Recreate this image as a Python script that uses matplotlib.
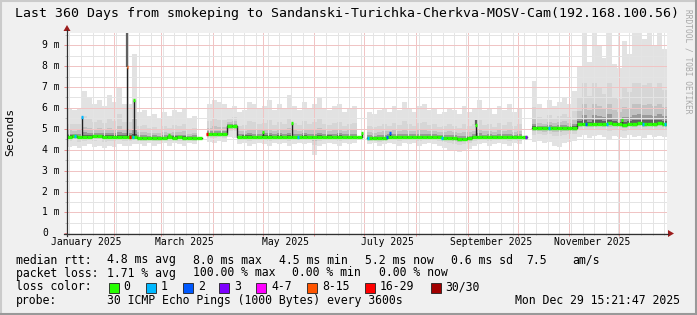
import numpy as np
import matplotlib
matplotlib.use("Agg")
import matplotlib.pyplot as plt
import matplotlib.dates as mdates
from matplotlib.patches import Polygon, Rectangle
from matplotlib.lines import Line2D
import datetime as dt

plt.rcParams['font.family'] = 'DejaVu Sans Mono'

# time range of the graph (rrdtool "last 360 days")
end = dt.datetime(2025, 12, 29, 15, 21, 47)
start = end - dt.timedelta(days=360)
bin_days = 3

nan = np.nan

# median rtt per 3-day bin (ms)
median = [4.63, 4.64, 4.62, 4.63, 4.63, 4.65, 4.64, 4.63,
          4.62, 4.63, 4.62, 4.63, 4.62, 4.60,
          4.56, 4.57, 4.56, 4.57, 4.58, 4.57, 4.60,
          4.58, 4.59, 4.58, 4.57, 4.58, 4.57,
          nan,
          4.74, 4.75, 4.74, 4.75,
          5.13, 5.14,
          4.62, 4.63, 4.62, 4.61, 4.62, 4.63, 4.62, 4.62, 4.63, 4.62, 4.61, 4.62, 4.62,
          4.63, 4.62, 4.61, 4.62, 4.62, 4.63, 4.62, 4.62, 4.61, 4.62, 4.62, 4.63,
          nan,
          4.56, 4.55, 4.55, 4.56,
          4.61, 4.62, 4.61, 4.60, 4.61, 4.62, 4.61, 4.60, 4.61, 4.60, 4.59, 4.58, 4.57,
          4.55, 4.53, 4.52, 4.55,
          4.59, 4.60, 4.59, 4.60, 4.60, 4.59, 4.60, 4.59, 4.60, 4.59, 4.60,
          nan,
          5.02, 5.03, 5.03, 5.04, 5.03, 5.04, 5.05, 5.04, 5.06,
          5.24, 5.25, 5.23, 5.24, 5.25, 5.24, 5.26, 5.25, 5.24,
          5.17,
          5.24, 5.25, 5.26, 5.25, 5.24, 5.25, 5.26, 5.25]

# highest ping of the bin (top of the smoke)
smoke_max = [5.95, 5.9, 6.0, 6.8, 6.5, 6.2, 6.4, 6.1, 6.6, 6.3, 7.0, 6.2, 6.2, 8.6,
             5.8, 5.9, 5.6, 5.7, 5.5, 5.8, 5.6, 5.9, 5.8, 6.0, 5.5, 5.6, 5.4,
             nan,
             6.2, 6.4, 6.3, 6.2, 6.0, 6.1, 5.8, 5.9, 6.3, 6.2, 6.0, 6.1, 6.4, 5.9, 6.2, 6.0,
             6.6, 6.1, 5.9, 6.3, 6.0, 6.2, 6.5, 6.0, 5.9, 6.1, 6.2, 5.8, 6.0, 6.1, 5.9,
             nan,
             5.8, 5.7, 5.9, 6.0, 5.8, 6.1, 5.9, 6.3, 6.0, 5.8, 6.1, 6.2, 5.9, 6.0, 5.7, 5.8,
             6.0, 5.9, 5.7, 6.1, 5.8, 6.0, 6.4, 5.9, 6.0, 5.7, 6.1, 5.9, 6.2, 5.8, 6.0, 5.9,
             nan,
             7.3, 6.2, 6.0, 6.4, 6.1, 6.3, 6.5, 6.2, 6.8,
             8.0, 9.57, 8.2, 9.57, 9.0, 8.4, 9.57, 8.1, 7.9, 9.2, 8.6, 9.57, 9.57, 9.3,
             9.57, 9.0, 9.57, 8.8]

# lowest ping of the bin (bottom of the smoke)
smoke_min = [4.15, 4.2, 4.1, 4.2, 4.25, 4.15, 4.2, 4.1, 4.2, 4.15, 4.25, 4.2, 4.2, 4.25,
             4.25, 4.2, 4.3, 4.2, 4.25, 4.3, 4.2, 4.3, 4.25, 4.2, 4.3, 4.25, 4.3,
             nan,
             4.35, 4.3, 4.4, 4.35, 4.6, 4.55, 4.25, 4.3, 4.2, 4.25, 4.3, 4.25, 4.2, 4.3,
             4.25, 4.3, 4.2, 4.25, 4.3, 4.25, 4.3, 3.75, 4.2, 4.25, 4.3, 4.25, 4.2, 4.3,
             4.25, 4.3, 4.25,
             nan,
             4.25, 4.3, 4.2, 4.25, 4.3, 4.25, 4.2, 4.3, 4.25, 4.3, 4.2, 4.25, 4.3, 4.25,
             4.2, 4.1, 4.0, 3.95, 3.9, 4.0, 4.05, 4.2, 4.25, 4.3, 4.2, 4.25, 4.3, 4.25,
             4.2, 4.3, 4.25, 4.3,
             nan,
             4.35, 4.4, 4.3, 4.35, 4.2, 4.15, 4.3, 4.35, 4.4,
             4.6, 4.7, 4.55, 4.65, 4.7, 4.6, 4.5, 4.65, 4.6, 4.55, 4.7, 4.6, 4.65, 4.55,
             4.7, 4.6, 4.65, 4.6]

# single narrow median spikes (days after start)
spike_days = [9.0, 36.2, 40.2, 61.0, 117.6, 135.0, 176.8, 193.8, 245.4, 333.0]
spike_vals = [5.58, 7.97, 6.38, 4.72, 4.86, 5.26, 4.80, 4.82, 5.20, 5.40]
spike_top = [5.58, 9.57, 6.38, 4.72, 4.86, 5.26, 4.80, 4.82, 5.40, 5.40]
spike_loss = [1, 9, 0, 0, 0, 0, 0, 2, 0, 0]

# short stretches with packet loss on the median line
loss_days = [4.8, 37.8, 39.6, 84.0, 138.6, 180.6, 192.0, 225.0, 275.4, 289.0, 311.4, 323.8, 345.6, 358.8]
loss_counts = [1, 20, 1, 20, 1, 1, 2, 1, 3, 1, 2, 1, 1, 1]

loss_labels = ['0', '1', '2', '3', '4-7', '8-15', '16-29', '30/30']
loss_bounds = [0, 1, 2, 3, 4, 8, 16, 30]
loss_colors = ['#26ff00', '#00b8ff', '#0059ff', '#7e00ff', '#ff00ff', '#ff5500', '#ff0000', '#a10000']

stats_rtt = ['median rtt:', '4.8 ms avg', '8.0 ms max', '4.5 ms min', '5.2 ms now', '0.6 ms sd', '7.5', 'am/s']
stats_loss = ['packet loss:', '1.71 % avg', '100.00 % max', '0.00 % min', '0.00 % now']


def loss_color(n):
    return loss_colors[np.searchsorted(loss_bounds, n, side='right') - 1]


W, H = 697, 315


def fx(x):
    return x / W


def fy(y):
    return 1 - y / H


fig = plt.figure(figsize=(W / 100, H / 100), dpi=100)
fig.patch.set_facecolor('#f0f0f0')

ymax = 9.57
ax = fig.add_axes([fx(67), fy(233.3), 600 / W, 200 / H])
ax.set_facecolor('white')

t0 = mdates.date2num(start)
edges = t0 + np.arange(len(median) + 1) * bin_days
med = np.array(median)
hi = np.array(smoke_max)
lo = np.array(smoke_min)

# smoke: light outside, dark near the median
shades = [(1.0, '#e2e2e2'), (0.45, '#d6d6d6'), (0.22, '#c2c2c2'), (0.1, '#9a9a9a'), (0.04, '#606060')]
for f, c in shades:
    up = med + (hi - med) * f
    dn = med - (med - lo) * f
    ax.fill_between(edges, np.append(dn, dn[-1]), np.append(up, up[-1]),
                    step='post', color=c, lw=0, zorder=1)

# spikes: dark column above, black vertical, coloured cap
for d, v, top, n in zip(spike_days, spike_vals, spike_top, spike_loss):
    x = t0 + d
    base = med[int(d // bin_days)]
    if top > v:
        ax.vlines(x, v, top, color='#606060', lw=1.6, zorder=3)
    ax.vlines(x, base, v, color='#202020', lw=1.0, zorder=4)
    ax.hlines(v, x - 0.5, x + 0.5, color=loss_color(n), lw=2.4, zorder=6)

# median line
ax.step(edges, np.append(med, med[-1]), where='post', color='#202020', lw=1.0, zorder=4)
ax.hlines(med, edges[:-1], edges[1:], color=loss_colors[0], lw=2.4, zorder=5)

for d, n in zip(loss_days, loss_counts):
    x = t0 + d
    ax.hlines(med[int(d // bin_days)], x - 0.6, x + 0.6, color=loss_color(n), lw=2.4, zorder=6)

ax.set_xlim(t0, mdates.date2num(end))
ax.set_ylim(0, ymax)

# grid like rrdtool (dotted lines, drawn as their blended tone)
ax.xaxis.set_major_locator(mdates.MonthLocator())
ax.xaxis.set_minor_locator(mdates.WeekdayLocator(byweekday=mdates.SU))
ax.yaxis.set_major_locator(matplotlib.ticker.MultipleLocator(1))
ax.yaxis.set_minor_locator(matplotlib.ticker.MultipleLocator(0.5))
ax.set_axisbelow(False)
ax.grid(which='minor', color='#e4e4e4', ls='-', lw=0.72)
ax.grid(which='major', color='#f0c4c4', ls='-', lw=0.72)
ax.tick_params(which='major', length=2.2, width=0.72, color='#e89090',
               labelbottom=False, labelleft=False)
ax.tick_params(which='minor', length=1.5, width=0.72, color='#c0c0c0')
for s in ax.spines.values():
    s.set_visible(False)

# month labels on the 15th
for m in [1, 3, 5, 7, 9, 11]:
    d = dt.datetime(2025, m, 15)
    ax.text(mdates.date2num(d), -0.042, d.strftime('%B %Y'), transform=ax.get_xaxis_transform(),
            ha='center', va='center', fontsize=7.05)

for v in range(10):
    ax.text(-0.0412, v, '0' if v == 0 else f'{v} m', transform=ax.get_yaxis_transform(),
            ha='left', va='center', fontsize=7.05)

# axes with arrows
fig.add_artist(Line2D([fx(64), fx(668)], [fy(233.5), fy(233.5)], color='#303030', lw=0.9))
fig.add_artist(Line2D([fx(67), fx(67)], [fy(236), fy(30)], color='#303030', lw=0.9))
fig.add_artist(Polygon([(fx(67), fy(25)), (fx(63.5), fy(31)), (fx(70.5), fy(31))],
                       closed=True, transform=fig.transFigure, color='#9c1c1c', lw=0))
fig.add_artist(Polygon([(fx(674), fy(233.5)), (fx(668), fy(230)), (fx(668), fy(237))],
                       closed=True, transform=fig.transFigure, color='#9c1c1c', lw=0))

fig.text(fx(347), fy(14), 'Last 360 Days from smokeping to Sandanski-Turichka-Cherkva-MOSV-Cam(192.168.100.56)',
         ha='center', va='center', fontsize=9.5)
fig.text(fx(10.5), fy(132), 'Seconds', rotation=90, ha='center', va='center', fontsize=8.2)
fig.text(fx(688), fy(61), 'RRDTOOL / TOBI OETIKER', rotation=270, ha='center', va='center',
         fontsize=5.7, color='#a8a8a8')

# legend rows
rtt_x = [16, 107, 193, 279, 365, 451, 526, 572]
for x, s in zip(rtt_x, stats_rtt):
    fig.text(fx(x), fy(260), s, ha='left', va='center', fontsize=8.3)
loss_x = [16, 107, 193, 292, 379]
for x, s in zip(loss_x, stats_loss):
    fig.text(fx(x), fy(273), s, ha='left', va='center', fontsize=8.3)

fig.text(fx(16), fy(287), 'loss color:', ha='left', va='center', fontsize=8.3)
box_x = [108.7, 145.7, 182.7, 219.3, 256, 307, 365, 430.7]
for x, lab, c in zip(box_x, loss_labels, loss_colors):
    fig.add_artist(Rectangle((fx(x), fy(292.5)), 10 / W, 10 / H, transform=fig.transFigure,
                             facecolor=c, edgecolor='#202020', lw=0.6))
    fig.text(fx(x + 15), fy(287), lab, ha='left', va='center', fontsize=8.3)

fig.text(fx(16), fy(300.5), 'probe:', ha='left', va='center', fontsize=8.3)
fig.text(fx(107), fy(300.5), '30 ICMP Echo Pings (1000 Bytes) every 3600s', ha='left', va='center', fontsize=8.3)
fig.text(fx(680), fy(300.5), end.strftime('%a %b %d %H:%M:%S %Y'), ha='right', va='center', fontsize=8.3)

# bevelled border
fig.add_artist(Line2D([0, 1], [fy(1), fy(1)], color='#cbcbcb', lw=1.5))
fig.add_artist(Line2D([fx(1), fx(1)], [0, 1], color='#cbcbcb', lw=1.5))
fig.add_artist(Line2D([0, 1], [fy(314), fy(314)], color='#999999', lw=1.5))
fig.add_artist(Line2D([fx(696), fx(696)], [0, 1], color='#999999', lw=1.5))

fig.savefig('out.png', dpi=100, facecolor=fig.get_facecolor())
